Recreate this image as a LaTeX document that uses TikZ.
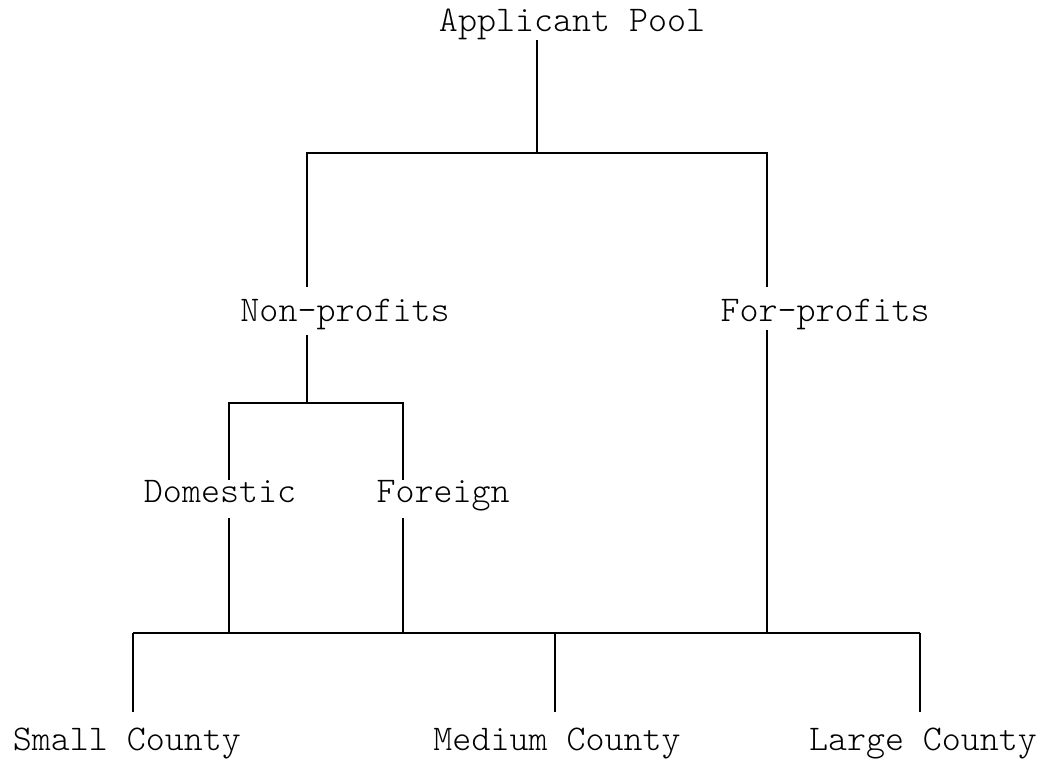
\documentclass[tikz,border=0pt]{standalone}
\usepackage{fontspec}
\setmonofont{lmmonolt10-regular.otf}
\usetikzlibrary{positioning}

\begin{document}
\begin{tikzpicture}[x=0.02cm,y=-0.02cm,line width=1.1pt,
	lbl/.style={font=\ttfamily\fontsize{20.6}{22}\selectfont,inner sep=0pt,anchor=base}]
	\useasboundingbox (0,0) rectangle (1050,759);
	% labels
	\node[lbl] (pool) at (572,32) {Applicant Pool};
	\node[lbl] (np) at (345,322) {Non-profits};
	\node[lbl] (fp) at (825,322) {For-profits};
	\node[lbl] (dom) at (220,502) {Domestic};
	\node[lbl] (for) at (443,502) {Foreign};
	\node[lbl] (small) at (127,750) {Small County};
	\node[lbl] (medium) at (557,750) {Medium County};
	\node[lbl] (large) at (923,750) {Large County};

	% junctions
	\coordinate (pooldn) at (537,40);
	\coordinate (top) at (537,153);
	\coordinate (npj) at (307,153);
	\coordinate (fpj) at (767,153);
	\coordinate (npup) at (307,287);
	\coordinate (fpup) at (767,287);
	\coordinate (npdn) at (307,335);
	\coordinate (fpdn) at (767,330);
	\coordinate (nat) at (307,403);
	\coordinate (domj) at (229,403);
	\coordinate (forj) at (403,403);
	\coordinate (domup) at (229,480);
	\coordinate (forup) at (403,480);
	\coordinate (domdn) at (229,518);
	\coordinate (fordn) at (403,518);
	\coordinate (sizel) at (133,633);
	\coordinate (sizem) at (555,633);
	\coordinate (sizer) at (920,633);
	\coordinate (smallup) at (133,712);
	\coordinate (mediumup) at (555,712);
	\coordinate (largeup) at (920,712);

	% tree
	\draw (pooldn) -- (top);
	\draw (npup) -- (npj) -- (fpj) -- (fpup);
	\draw (npdn) -- (nat);
	\draw (domup) -- (domj) -- (forj) -- (forup);
	\draw (domdn) -- (domdn |- sizel);
	\draw (fordn) -- (fordn |- sizel);
	\draw (fpdn) -- (fpdn |- sizel);
	\draw (sizel) -- (sizer);
	\draw (sizel) -- (smallup);
	\draw (sizem) -- (mediumup);
	\draw (sizer) -- (largeup);
\end{tikzpicture}
\end{document}
